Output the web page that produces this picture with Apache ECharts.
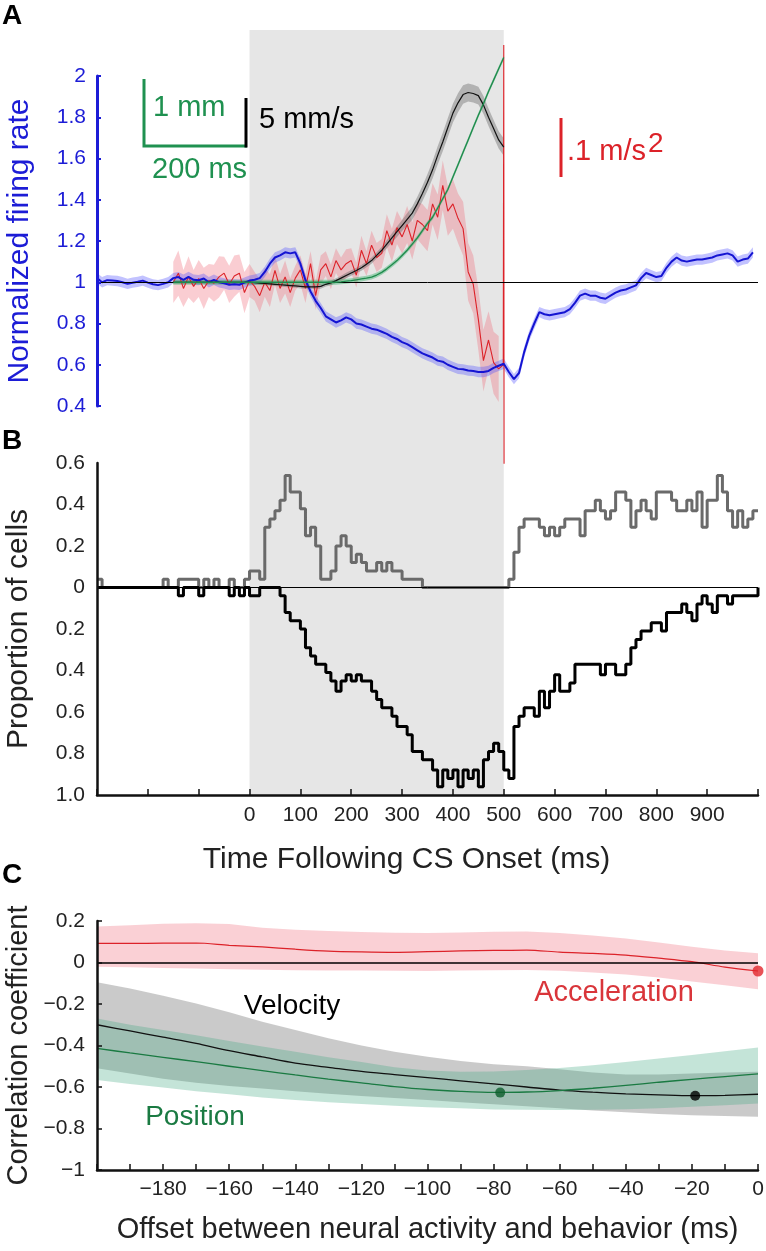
<!DOCTYPE html>
<html><head><meta charset="utf-8">
<script src="https://cdn.jsdelivr.net/npm/echarts@6/dist/echarts.min.js"></script>
<style>html,body{margin:0;padding:0;background:#fff}#c{width:766px;height:1251px}</style>
</head><body><div id="c"></div>
<script>
// ================= DATA =================
// Panel A (time in ms, 10 ms bins)
const firingStart = -300;
const firingRate = [
 1.02, 1.0, 1.01, 1.008, 1.006, 1.0, 0.992, 0.998, 1.002, 1.008,
 0.998, 0.99, 0.986, 0.992, 1.0, 1.02, 1.025, 1.012, 1.026, 1.012,
 1.01, 1.018, 1.0, 1.012, 1.0, 0.995, 0.988, 0.99, 0.988, 0.998,
 1.008, 1.012, 1.02, 1.05, 1.09, 1.12, 1.13, 1.145, 1.14, 1.145,
 1.09, 1.01, 0.955, 0.91, 0.875, 0.835, 0.82, 0.805, 0.815, 0.83,
 0.82, 0.80, 0.795, 0.785, 0.775, 0.77, 0.76, 0.75, 0.735, 0.725,
 0.71, 0.70, 0.685, 0.67, 0.655, 0.645, 0.635, 0.62, 0.615, 0.60,
 0.59, 0.58, 0.578, 0.572, 0.57, 0.565, 0.565, 0.57, 0.585, 0.595,
 0.605, 0.565, 0.53, 0.56, 0.66, 0.74, 0.80, 0.855, 0.845, 0.84,
 0.845, 0.85, 0.855, 0.87, 0.90, 0.935, 0.945, 0.935, 0.935, 0.925,
 0.92, 0.935, 0.95, 0.96, 0.965, 0.975, 0.985, 1.02, 1.045, 1.035,
 1.025, 1.03, 1.07, 1.10, 1.12, 1.105, 1.10, 1.105, 1.11, 1.11,
 1.115, 1.12, 1.13, 1.135, 1.14, 1.13, 1.10, 1.11, 1.115, 1.145
];
const firingSem = 0.025;

const behaviorStart = -150;
const velocity = [
 1.0, 1.0, 1.0, 1.0, 1.0, 1.0, 1.0, 1.0, 1.0, 1.0,
 1.0, 1.0, 1.0, 1.0, 1.0, 1.0, 0.998, 0.996, 0.994, 0.992,
 0.99, 0.988, 0.986, 0.984, 0.982, 0.98, 0.978, 0.978, 0.978, 0.98,
 0.99, 0.997, 1.008, 1.02, 1.033, 1.045, 1.057, 1.07, 1.087, 1.105,
 1.13, 1.155, 1.185, 1.215, 1.245, 1.275, 1.305, 1.335, 1.38, 1.43,
 1.485, 1.545, 1.615, 1.68, 1.75, 1.82, 1.87, 1.91, 1.92, 1.915,
 1.905, 1.86, 1.80, 1.745, 1.69, 1.655
];
const velocitySem = [
 0.008, 0.008, 0.008, 0.008, 0.008, 0.008, 0.008, 0.008, 0.008, 0.008,
 0.008, 0.008, 0.008, 0.008, 0.008, 0.008, 0.008, 0.008, 0.008, 0.008,
 0.008, 0.008, 0.009, 0.009, 0.009, 0.01, 0.01, 0.01, 0.011, 0.011,
 0.011, 0.012, 0.012, 0.012, 0.013, 0.013, 0.013, 0.014, 0.014, 0.015,
 0.015, 0.017, 0.02, 0.022, 0.025, 0.027, 0.03, 0.032, 0.035, 0.037,
 0.04, 0.042, 0.044, 0.045, 0.046, 0.046, 0.046, 0.045, 0.044, 0.043,
 0.043, 0.043, 0.042, 0.042, 0.042, 0.042
];
const position = [
 1.0, 1.0, 1.0, 1.0, 1.0, 1.0, 1.0, 1.0, 1.0, 1.0,
 1.0, 1.0, 1.0, 1.0, 1.0, 1.0, 1.0, 1.0, 1.0, 1.0,
 1.0, 1.0, 1.0, 1.0, 1.0, 1.0, 1.0, 1.0, 1.0, 1.0,
 1.0, 1.0, 1.0, 1.002, 1.005, 1.008, 1.012, 1.016, 1.02, 1.025,
 1.035, 1.048, 1.065, 1.085, 1.105, 1.13, 1.155, 1.185, 1.215, 1.25,
 1.285, 1.315, 1.36, 1.405, 1.45, 1.51, 1.57, 1.63, 1.69, 1.75,
 1.81, 1.865, 1.925, 1.98, 2.035, 2.09
];
const positionSem = 0.012;

const acceleration = [
 1.0, 1.044, 0.97, 1.026, 0.98, 1.018, 0.97, 1.008, 0.995, 1.026,
 1.044, 0.99, 1.03, 1.044, 0.95, 1.008, 0.98, 0.935, 1.0, 0.96,
 1.058, 0.97, 1.026, 0.95, 1.02, 1.06, 0.97, 1.09, 0.935, 1.06,
 1.09, 1.026, 1.105, 1.06, 1.09, 1.105, 1.034, 1.155, 1.09, 1.18,
 1.12, 1.14, 1.25, 1.18, 1.265, 1.22, 1.28, 1.20, 1.30, 1.28,
 1.25, 1.38, 1.315, 1.47, 1.345, 1.38, 1.31, 1.26, 1.05, 0.99,
 0.82, 0.62, 0.72, 0.61, 0.58
];
const accelerationSem = [
 0.1, 0.11, 0.09, 0.1, 0.08, 0.09, 0.1, 0.08, 0.09, 0.1,
 0.08, 0.09, 0.1, 0.09, 0.1, 0.08, 0.07, 0.08, 0.07, 0.08,
 0.07, 0.07, 0.08, 0.07, 0.06, 0.07, 0.07, 0.06, 0.07, 0.07,
 0.06, 0.06, 0.06, 0.06, 0.07, 0.06, 0.06, 0.07, 0.06, 0.07,
 0.07, 0.07, 0.08, 0.08, 0.08, 0.08, 0.09, 0.09, 0.09, 0.1,
 0.1, 0.1, 0.11, 0.12, 0.12, 0.12, 0.12, 0.13, 0.14, 0.14,
 0.15, 0.15, 0.14, 0.15, 0.16
];
const accelSpikeT = [499, 500, 500.6];
const accelSpikeV = [0.6, 2.15, 0.12];

const csWindowMs = [0, 500];

// Panel B (proportion of cells, 10 ms bins, -300..1000)
const propStart = -300;
const propIncrease = [
 0.04, 0, 0, 0, 0, 0, 0, 0, 0, 0,
 0, 0, 0, 0.04, 0, 0, 0.04, 0.04, 0.04, 0.04,
 0, 0.04, 0, 0.04, 0, 0, 0.04, 0, 0, 0.04,
 0.08, 0.08, 0.04, 0.29, 0.33, 0.37, 0.42, 0.54, 0.46, 0.46,
 0.38, 0.25, 0.29, 0.2, 0.04, 0.04, 0.08, 0.2, 0.25, 0.2,
 0.12, 0.16, 0.12, 0.08, 0.08, 0.12, 0.08, 0.12, 0.08, 0.08,
 0.04, 0.04, 0.04, 0.04, 0, 0, 0, 0, 0, 0,
 0, 0, 0, 0, 0, 0, 0, 0, 0, 0,
 0, 0.04, 0.17, 0.29, 0.33, 0.33, 0.33, 0.29, 0.25, 0.29,
 0.25, 0.29, 0.33, 0.33, 0.33, 0.25, 0.37, 0.37, 0.42, 0.37,
 0.33, 0.37, 0.46, 0.46, 0.42, 0.29, 0.37, 0.42, 0.37, 0.33,
 0.46, 0.46, 0.46, 0.42, 0.37, 0.37, 0.42, 0.37, 0.46, 0.29,
 0.42, 0.42, 0.54, 0.46, 0.37, 0.29, 0.37, 0.29, 0.33, 0.37,
 0.37
];
const propDecrease = [
 0, 0, 0, 0, 0, 0, 0, 0, 0, 0,
 0, 0, 0, 0, 0, 0, -0.04, 0, 0, 0,
 -0.04, 0, 0, 0, 0, 0, -0.04, 0, -0.04, 0,
 -0.04, -0.04, 0, 0, 0, 0, -0.04, -0.12, -0.16, -0.16,
 -0.2, -0.29, -0.33, -0.37, -0.37, -0.41, -0.45, -0.5, -0.45, -0.42,
 -0.45, -0.42, -0.45, -0.45, -0.5, -0.54, -0.58, -0.58, -0.62, -0.67,
 -0.67, -0.71, -0.79, -0.79, -0.83, -0.83, -0.88, -0.96, -0.88, -0.92,
 -0.88, -0.96, -0.88, -0.92, -0.88, -0.96, -0.83, -0.79, -0.75, -0.79,
 -0.88, -0.92, -0.67, -0.62, -0.58, -0.58, -0.62, -0.5, -0.58, -0.5,
 -0.42, -0.5, -0.5, -0.46, -0.37, -0.37, -0.37, -0.37, -0.37, -0.42,
 -0.37, -0.37, -0.42, -0.42, -0.37, -0.29, -0.25, -0.21, -0.21, -0.17,
 -0.17, -0.21, -0.12, -0.12, -0.12, -0.08, -0.12, -0.16, -0.08, -0.04,
 -0.08, -0.12, -0.04, -0.04, -0.08, -0.04, -0.04, -0.04, -0.04, -0.04,
 0
];

// Panel C (correlation vs offset)
const corrOffsets = [-200,-190,-180,-170,-160,-150,-140,-130,-120,-110,-100,-90,-80,-70,-60,-50,-40,-30,-20,-10,0];
const corrAccel   = [0.092,0.092,0.093,0.094,0.083,0.075,0.064,0.055,0.051,0.049,0.052,0.056,0.058,0.06,0.05,0.044,0.036,0.021,0.004,-0.022,-0.041];
const corrAccelLo = [-0.02,-0.023,-0.026,-0.029,-0.032,-0.035,-0.037,-0.038,-0.039,-0.04,-0.041,-0.039,-0.037,-0.036,-0.04,-0.048,-0.058,-0.072,-0.092,-0.11,-0.129];
const corrAccelHi = [0.173,0.18,0.187,0.189,0.185,0.168,0.158,0.152,0.147,0.143,0.142,0.145,0.148,0.149,0.142,0.13,0.116,0.096,0.076,0.058,0.044];
const corrVel     = [-0.30,-0.33,-0.36,-0.39,-0.425,-0.455,-0.485,-0.505,-0.525,-0.54,-0.555,-0.57,-0.585,-0.60,-0.615,-0.625,-0.633,-0.638,-0.642,-0.64,-0.635];
const corrVelLo   = [-0.51,-0.535,-0.56,-0.58,-0.595,-0.607,-0.62,-0.632,-0.643,-0.653,-0.663,-0.673,-0.683,-0.693,-0.703,-0.713,-0.722,-0.73,-0.736,-0.74,-0.743];
const corrVelHi   = [-0.095,-0.125,-0.16,-0.197,-0.24,-0.285,-0.325,-0.365,-0.40,-0.43,-0.454,-0.475,-0.49,-0.50,-0.515,-0.53,-0.54,-0.54,-0.535,-0.53,-0.526];
const corrPos     = [-0.414,-0.436,-0.457,-0.478,-0.50,-0.521,-0.542,-0.562,-0.58,-0.598,-0.612,-0.621,-0.626,-0.624,-0.617,-0.606,-0.592,-0.577,-0.563,-0.55,-0.537];
const corrPosLo   = [-0.566,-0.585,-0.603,-0.62,-0.635,-0.65,-0.663,-0.673,-0.682,-0.69,-0.697,-0.703,-0.708,-0.71,-0.711,-0.71,-0.707,-0.702,-0.695,-0.688,-0.679];
const corrPosHi   = [-0.27,-0.30,-0.325,-0.35,-0.378,-0.405,-0.43,-0.457,-0.48,-0.505,-0.52,-0.527,-0.525,-0.518,-0.508,-0.495,-0.48,-0.463,-0.446,-0.428,-0.41];
const peakPos = [-78, -0.627];
const peakVel = [-19, -0.642];
const peakAcc = [0, -0.041];

// ================= CHART =================
const FONT = '"Liberation Sans", Arial, Helvetica, sans-serif';
const BLUE = '#1c1cd6';
const GREEN_TXT = '#1f9150';
const RED = '#dc2229';
const DARK = '#222';

const times = (start, n, step) => Array.from({length: n}, (_, i) => start + step * i);
const zip = (xs, ys) => xs.map((x, i) => [x, ys[i]]);

const tFiring = times(firingStart, firingRate.length, 10);
const tBeh = times(behaviorStart, velocity.length, 10);
const tAcc = times(behaviorStart, acceleration.length, 10);
const tProp = times(propStart, propIncrease.length, 10);

function band(xs, lo, hi, color, xi, yi, z) {
  const data = xs.map((x, i) => [x, lo[i], hi[i]]);
  return {
    type: 'custom', xAxisIndex: xi, yAxisIndex: yi, z: z, silent: true, clip: false,
    data: data, encode: {x: 0, y: [1, 2]},
    renderItem: function (params, api) {
      if (params.dataIndex !== 0) return null;
      const top = data.map(d => api.coord([d[0], d[2]]));
      const bot = data.map(d => api.coord([d[0], d[1]])).reverse();
      return {type: 'polygon', shape: {points: top.concat(bot)}, style: {fill: color}};
    }
  };
}
function line(data, color, width, xi, yi, z, extra) {
  return Object.assign({
    type: 'line', xAxisIndex: xi, yAxisIndex: yi, z: z, data: data,
    showSymbol: false, symbol: 'none', silent: true, clip: false,
    lineStyle: {color: color, width: width}
  }, extra || {});
}
const refLine = (val, color, width) => ({
  silent: true, symbol: 'none', label: {show: false}, animation: false,
  lineStyle: {color: color, width: width, type: 'solid'}, data: [{yAxis: val}]
});

const accLine = zip(tAcc, acceleration).concat(zip(accelSpikeT, accelSpikeV));
const accLo = acceleration.map((v, i) => v - accelerationSem[i]);
const accHi = acceleration.map((v, i) => v + accelerationSem[i]);
const firLo = firingRate.map(v => v - firingSem);
const firHi = firingRate.map(v => v + firingSem);
const velLo = velocity.map((v, i) => v - velocitySem[i]);
const velHi = velocity.map((v, i) => v + velocitySem[i]);
const posLo = position.map(v => v - positionSem);
const posHi = position.map(v => v + positionSem);

const labelFont = {fontFamily: FONT, fontSize: 21, color: DARK};
const nameFont = {fontFamily: FONT, fontSize: 29, color: DARK};

const option = {
  animation: false,
  backgroundColor: '#ffffff',
  textStyle: {fontFamily: FONT},
  grid: [
    {left: 97, top: 30, width: 661, height: 765, outerBoundsMode: 'none'},
    {left: 97, top: 76, width: 661, height: 330, outerBoundsMode: 'none'},
    {left: 97, top: 463, width: 661, height: 332, outerBoundsMode: 'none'},
    {left: 97, top: 921, width: 661, height: 249, outerBoundsMode: 'none'}
  ],
  xAxis: [
    {gridIndex: 0, type: 'value', min: -300, max: 1000, show: false},
    {gridIndex: 1, type: 'value', min: -300, max: 1000, show: false},
    {gridIndex: 2, type: 'value', min: -300, max: 1000, interval: 100, z: 6,
      axisLine: {show: true, onZero: false, lineStyle: {color: '#111', width: 2.5}},
      axisTick: {show: true, inside: true, length: 6, lineStyle: {color: '#111', width: 1.5}},
      axisLabel: Object.assign({interval: 0, margin: 10, showMinLabel: true, showMaxLabel: true,
        formatter: v => (v >= 0 && v <= 900) ? String(v) : ''}, labelFont),
      splitLine: {show: false},
      name: 'Time Following CS Onset (ms)', nameLocation: 'middle', nameGap: 50, nameMoveOverlap: false,
      nameTextStyle: {fontFamily: FONT, fontSize: 30, color: DARK, padding: [0, 42, 0, 0]}},
    {gridIndex: 3, type: 'value', min: -200, max: 0, interval: 10, z: 6,
      axisLine: {show: true, onZero: false, lineStyle: {color: '#111', width: 2.5}},
      axisTick: {show: true, inside: true, length: 6, lineStyle: {color: '#111', width: 1.5}},
      axisLabel: Object.assign({interval: 0, margin: 9, showMinLabel: true, showMaxLabel: true,
        formatter: v => (v % 20 !== 0 || v === -200) ? '' : (v < 0 ? '\u2212' + Math.abs(v) : '0')}, labelFont),
      splitLine: {show: false},
      name: 'Offset between neural activity and behavior (ms)', nameLocation: 'middle', nameGap: 45, nameMoveOverlap: false,
      nameTextStyle: nameFont}
  ],
  yAxis: [
    {gridIndex: 0, type: 'value', min: 0, max: 1, show: false},
    {gridIndex: 1, type: 'value', min: 0.4, max: 2, interval: 0.2, z: 6,
      axisLine: {show: true, onZero: false, lineStyle: {color: BLUE, width: 3}},
      axisTick: {show: true, inside: true, length: 4, lineStyle: {color: BLUE, width: 2}},
      axisLabel: {fontFamily: FONT, fontSize: 21, color: BLUE, margin: 11,
        formatter: v => String(parseFloat(v.toFixed(1)))},
      splitLine: {show: false},
      name: 'Normalized firing rate', nameLocation: 'middle', nameGap: 62, nameMoveOverlap: false,
      nameTextStyle: {fontFamily: FONT, fontSize: 30, color: BLUE}},
    {gridIndex: 2, type: 'value', min: -1, max: 0.6, interval: 0.2, z: 6,
      axisLine: {show: true, onZero: false, lineStyle: {color: '#111', width: 2.5}},
      axisTick: {show: false},
      axisLabel: Object.assign({margin: 12, formatter: v => {
        const a = Math.abs(v);
        if (Math.abs(a - 1) < 1e-9) return '1.0';
        if (a < 1e-9) return '0';
        return a.toFixed(1);
      }}, labelFont),
      splitLine: {show: false},
      name: 'Proportion of cells', nameLocation: 'middle', nameGap: 63, nameMoveOverlap: false,
      nameTextStyle: {fontFamily: FONT, fontSize: 30, color: DARK}},
    {gridIndex: 3, type: 'value', min: -1, max: 0.2, interval: 0.2, z: 6,
      axisLine: {show: true, onZero: false, lineStyle: {color: '#111', width: 2.5}},
      axisTick: {show: true, inside: true, length: 5, lineStyle: {color: '#111', width: 1.5}},
      axisLabel: Object.assign({margin: 12, formatter: v => {
        const r = Math.round(v * 10) / 10;
        if (r === 0) return '0';
        return (r < 0 ? '\u2212' : '') + String(Math.abs(r));
      }}, labelFont),
      splitLine: {show: false},
      name: 'Correlation coefficient', nameLocation: 'middle', nameGap: 64, nameMoveOverlap: false,
      nameTextStyle: nameFont}
  ],
  series: [
    // CS window shading across panels A and B
    {type: 'custom', xAxisIndex: 0, yAxisIndex: 0, z: 0, silent: true,
      data: [[csWindowMs[0], csWindowMs[1], 0, 1]], encode: {x: [0, 1], y: [2, 3]},
      renderItem: function (params, api) {
        const p0 = api.coord([api.value(0), api.value(3)]);
        const p1 = api.coord([api.value(1), api.value(2)]);
        return {type: 'rect', shape: {x: p0[0], y: p0[1], width: p1[0] - p0[0], height: p1[1] - p0[1]},
          style: {fill: '#e6e6e6'}};
      }},
    // Panel A bands
    band(tAcc, accLo, accHi, 'rgba(240,100,115,0.32)', 1, 1, 2),
    band(tFiring, firLo, firHi, 'rgba(80,80,255,0.35)', 1, 1, 2),
    band(tBeh, velLo, velHi, 'rgba(100,100,100,0.40)', 1, 1, 2),
    band(tBeh, posLo, posHi, 'rgba(60,180,110,0.45)', 1, 1, 2),
    // Panel A lines
    line(accLine, RED, 1.1, 1, 1, 3),
    line(zip(tFiring, firingRate), '#1414d2', 2, 1, 1, 4, {markLine: refLine(1, '#000', 1)}),
    line(zip(tBeh, velocity), '#111', 1.2, 1, 1, 5),
    line(zip(tBeh, position), '#1f8a4c', 1.3, 1, 1, 5),
    // Panel B
    line(zip(tProp, propIncrease), '#6a6a6a', 3, 2, 2, 4, {step: 'end'}),
    line(zip(tProp, propDecrease), '#000', 3, 2, 2, 4, {step: 'end', markLine: refLine(0, '#000', 1)}),
    // Panel C bands
    band(corrOffsets, corrAccelLo, corrAccelHi, 'rgba(240,100,115,0.30)', 3, 3, 2),
    band(corrOffsets, corrVelLo, corrVelHi, 'rgba(150,150,150,0.50)', 3, 3, 2),
    band(corrOffsets, corrPosLo, corrPosHi, 'rgba(60,165,125,0.30)', 3, 3, 2),
    // Panel C lines
    line(zip(corrOffsets, corrAccel), RED, 1.2, 3, 3, 4, {smooth: 0.3, markLine: refLine(0, '#000', 1.5)}),
    line(zip(corrOffsets, corrVel), '#111', 1.3, 3, 3, 4, {smooth: 0.3}),
    line(zip(corrOffsets, corrPos), '#1a7a42', 1.3, 3, 3, 4, {smooth: 0.3}),
    {type: 'scatter', xAxisIndex: 3, yAxisIndex: 3, z: 6, silent: true, symbolSize: 10,
      data: [peakPos], itemStyle: {color: '#0d5e2c'}},
    {type: 'scatter', xAxisIndex: 3, yAxisIndex: 3, z: 6, silent: true, symbolSize: 10,
      data: [peakVel], itemStyle: {color: '#000'}},
    {type: 'scatter', xAxisIndex: 3, yAxisIndex: 3, z: 6, silent: true, symbolSize: 11, clip: false,
      data: [peakAcc], itemStyle: {color: '#e2262c'}}
  ],
  graphic: [
    {type: 'text', x: 2, y: 16, z: 100, style: {text: 'A', font: 'bold 28px ' + FONT, fill: '#000', align: 'left', verticalAlign: 'middle', textAlign: 'left', textVerticalAlign: 'middle'}},
    {type: 'text', x: 2, y: 441, z: 100, style: {text: 'B', font: 'bold 28px ' + FONT, fill: '#000', align: 'left', verticalAlign: 'middle', textAlign: 'left', textVerticalAlign: 'middle'}},
    {type: 'text', x: 2, y: 875, z: 100, style: {text: 'C', font: 'bold 28px ' + FONT, fill: '#000', align: 'left', verticalAlign: 'middle', textAlign: 'left', textVerticalAlign: 'middle'}},
    // scale bars
    {type: 'polyline', z: 100, shape: {points: [[144, 79], [144, 146], [247, 146]]}, style: {stroke: '#1f9150', lineWidth: 3, fill: null}},
    {type: 'line', z: 100, shape: {x1: 246, y1: 98, x2: 246, y2: 147.5}, style: {stroke: '#000', lineWidth: 3}},
    {type: 'line', z: 100, shape: {x1: 561, y1: 118, x2: 561, y2: 177}, style: {stroke: RED, lineWidth: 3}},
    {type: 'text', x: 153, y: 108, z: 100, style: {text: '1 mm', font: '29px ' + FONT, fill: GREEN_TXT, align: 'left', verticalAlign: 'middle', textAlign: 'left', textVerticalAlign: 'middle'}},
    {type: 'text', x: 152, y: 170, z: 100, style: {text: '200 ms', font: '29px ' + FONT, fill: GREEN_TXT, align: 'left', verticalAlign: 'middle', textAlign: 'left', textVerticalAlign: 'middle'}},
    {type: 'text', x: 259, y: 120, z: 100, style: {text: '5 mm/s', font: '29px ' + FONT, fill: '#000', align: 'left', verticalAlign: 'middle', textAlign: 'left', textVerticalAlign: 'middle'}},
    {type: 'text', x: 567, y: 152, z: 100, style: {text: '.1 m/s', font: '29px ' + FONT, fill: RED, align: 'left', verticalAlign: 'middle', textAlign: 'left', textVerticalAlign: 'middle'}},
    {type: 'text', x: 648, y: 144, z: 100, style: {text: '2', font: '28px ' + FONT, fill: RED, align: 'left', verticalAlign: 'middle', textAlign: 'left', textVerticalAlign: 'middle'}},
    // panel C labels
    {type: 'text', x: 292, y: 1006, z: 100, style: {text: 'Velocity', font: '28px ' + FONT, fill: '#000', align: 'center', verticalAlign: 'middle', textAlign: 'center', textVerticalAlign: 'middle'}},
    {type: 'text', x: 195, y: 1117, z: 100, style: {text: 'Position', font: '28px ' + FONT, fill: '#1a7a42', align: 'center', verticalAlign: 'middle', textAlign: 'center', textVerticalAlign: 'middle'}},
    {type: 'text', x: 614, y: 993, z: 100, style: {text: 'Acceleration', font: '29px ' + FONT, fill: '#d9353a', align: 'center', verticalAlign: 'middle', textAlign: 'center', textVerticalAlign: 'middle'}}
  ]
};

const chart = echarts.init(document.getElementById('c'), null, {renderer: 'canvas', width: 766, height: 1251});
chart.setOption(option);
</script>
</body></html>
